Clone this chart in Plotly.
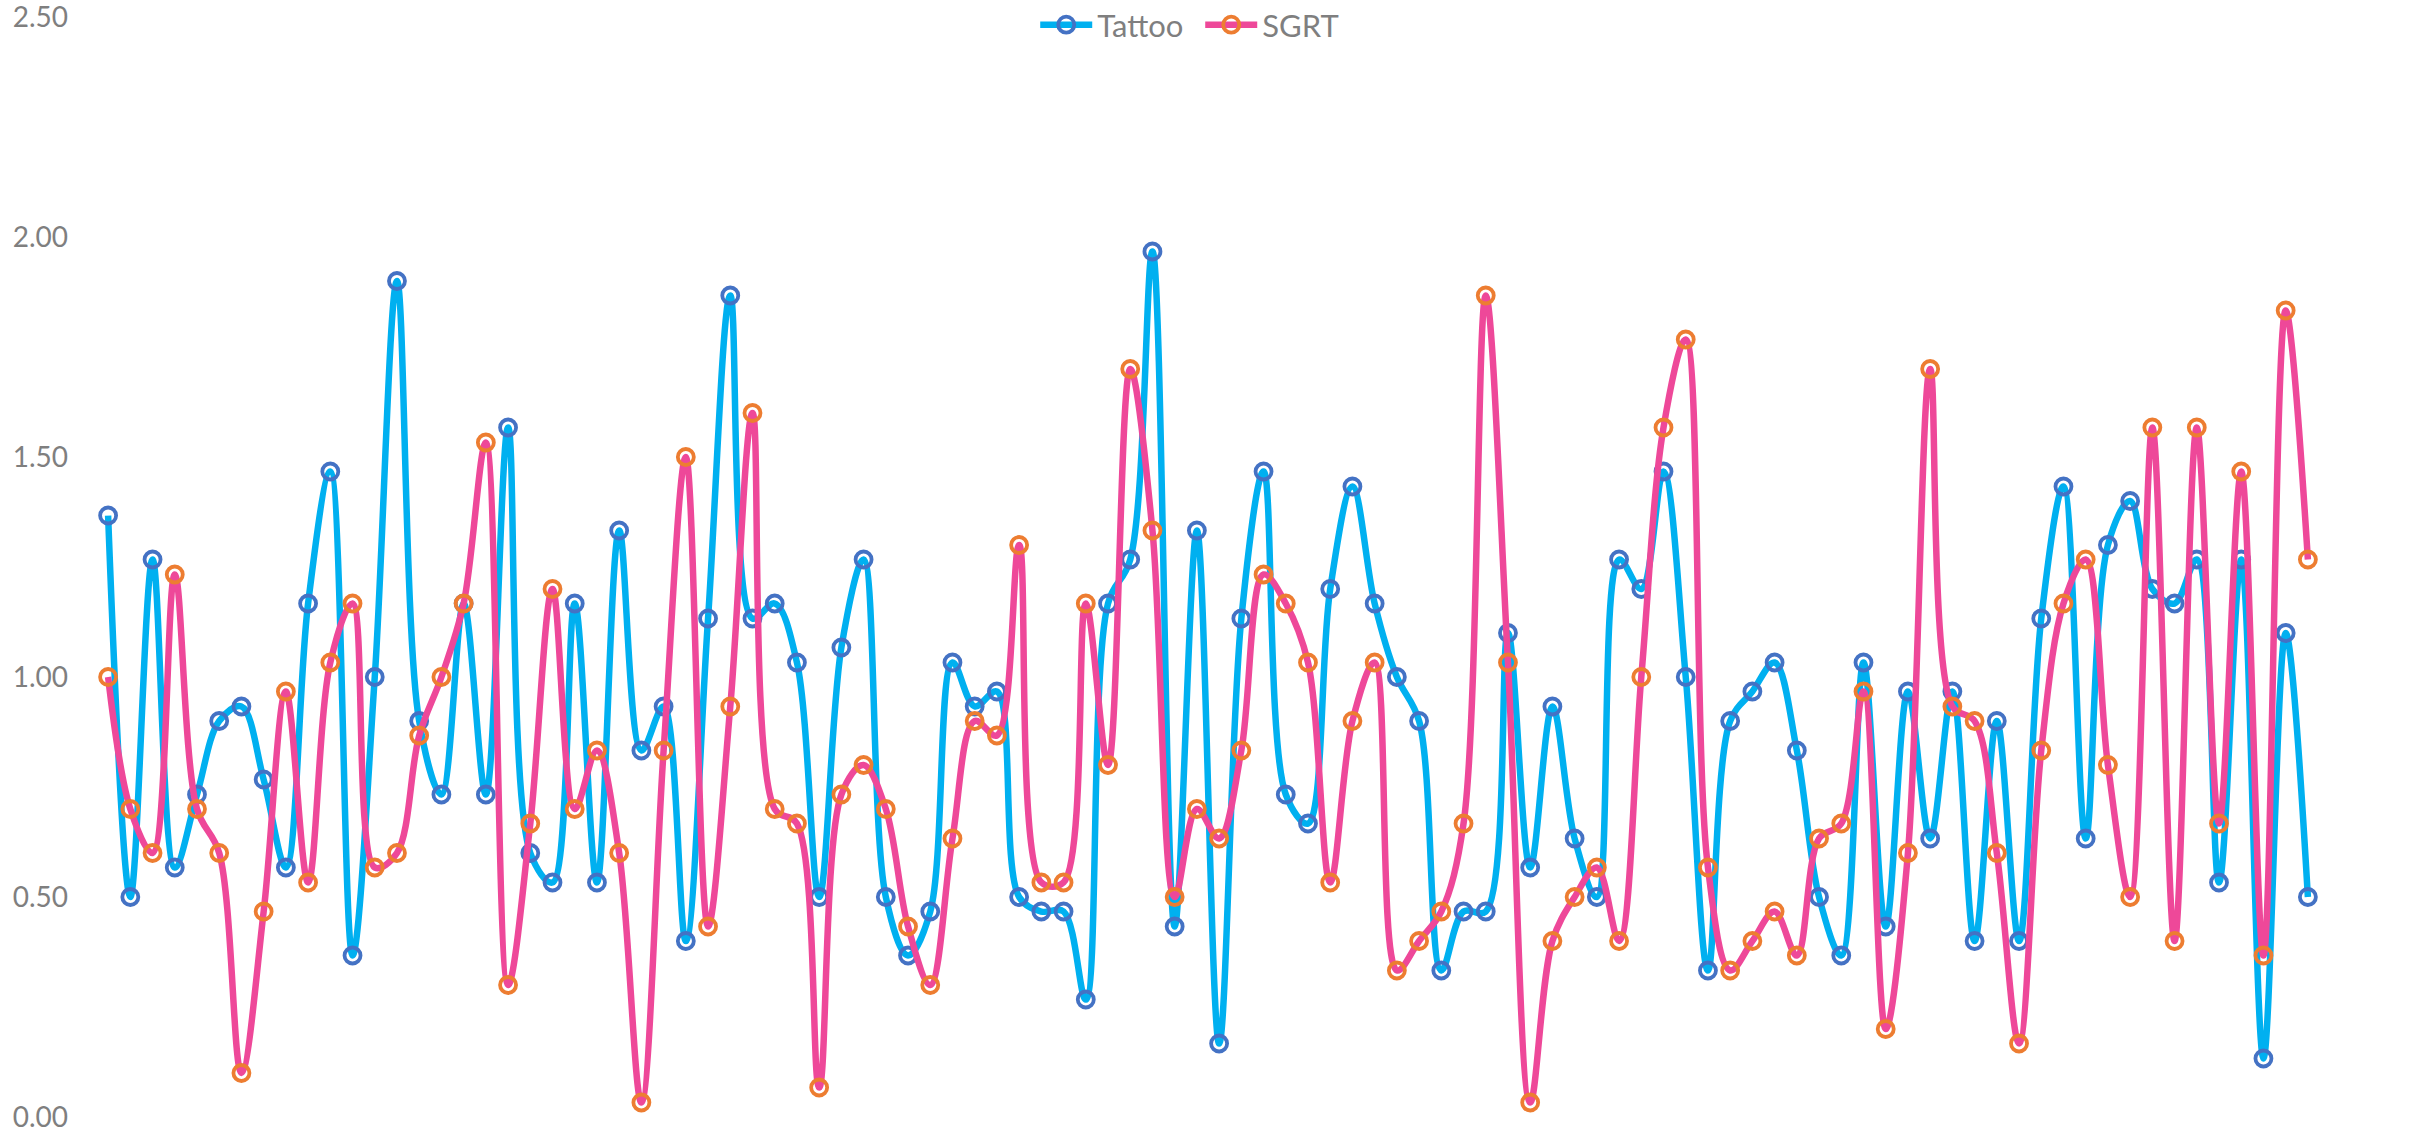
import plotly.graph_objects as go

points = list(range(1, 101))

tattoo = [
    1.367, 0.500, 1.267, 0.567, 0.733, 0.900, 0.933, 0.767, 0.567, 1.167,
    1.467, 0.367, 1.000, 1.900, 0.900, 0.733, 1.167, 0.733, 1.567, 0.600,
    0.533, 1.167, 0.533, 1.333, 0.833, 0.933, 0.400, 1.133, 1.867, 1.133,
    1.167, 1.033, 0.500, 1.067, 1.267, 0.500, 0.367, 0.467, 1.033, 0.933,
    0.967, 0.500, 0.467, 0.467, 0.267, 1.167, 1.267, 1.967, 0.433, 1.333,
    0.167, 1.133, 1.467, 0.733, 0.667, 1.200, 1.433, 1.167, 1.000, 0.900,
    0.333, 0.467, 0.467, 1.100, 0.567, 0.933, 0.633, 0.500, 1.267, 1.200,
    1.467, 1.000, 0.333, 0.900, 0.967, 1.033, 0.833, 0.500, 0.367, 1.033,
    0.433, 0.967, 0.633, 0.967, 0.400, 0.900, 0.400, 1.133, 1.433, 0.633,
    1.300, 1.400, 1.200, 1.167, 1.267, 0.533, 1.267, 0.133, 1.100, 0.500,
]

sgrt = [
    1.000, 0.700, 0.600, 1.233, 0.700, 0.600, 0.100, 0.467, 0.967, 0.533,
    1.033, 1.167, 0.567, 0.600, 0.867, 1.000, 1.167, 1.533, 0.300, 0.667,
    1.200, 0.700, 0.833, 0.600, 0.033, 0.833, 1.500, 0.433, 0.933, 1.600,
    0.700, 0.667, 0.067, 0.733, 0.800, 0.700, 0.433, 0.300, 0.633, 0.900,
    0.867, 1.300, 0.533, 0.533, 1.167, 0.800, 1.700, 1.333, 0.500, 0.700,
    0.633, 0.833, 1.233, 1.167, 1.033, 0.533, 0.900, 1.033, 0.333, 0.400,
    0.467, 0.667, 1.867, 1.033, 0.033, 0.400, 0.500, 0.567, 0.400, 1.000,
    1.567, 1.767, 0.567, 0.333, 0.400, 0.467, 0.367, 0.633, 0.667, 0.967,
    0.200, 0.600, 1.700, 0.933, 0.900, 0.600, 0.167, 0.833, 1.167, 1.267,
    0.800, 0.500, 1.567, 0.400, 1.567, 0.667, 1.467, 0.367, 1.833, 1.267,
]

y_ticks = [0.0, 0.5, 1.0, 1.5, 2.0, 2.5]

fig = go.Figure()
fig.add_trace(go.Scatter(
    x=points, y=tattoo, name="Tattoo", mode="lines+markers",
    line=dict(color="#00B0F0", width=6.5, shape="spline", smoothing=1.0),
    marker=dict(symbol="circle-open", size=16, color="#4472C4",
                line=dict(width=3.8, color="#4472C4")),
    cliponaxis=False,
))
fig.add_trace(go.Scatter(
    x=points, y=sgrt, name="SGRT", mode="lines+markers",
    line=dict(color="#EE4899", width=6.5, shape="spline", smoothing=1.0),
    marker=dict(symbol="circle-open", size=16, color="#ED7D31",
                line=dict(width=3.8, color="#ED7D31")),
    cliponaxis=False,
))

fig.update_layout(
    width=2430, height=1134,
    margin=dict(l=97, r=111, t=17, b=17, autoexpand=False),
    paper_bgcolor="white", plot_bgcolor="white",
    font=dict(family="Lato, 'Open Sans', sans-serif", size=28, color="#7F7F7F"),
    showlegend=True,
    legend=dict(orientation="h", x=0.4965, xanchor="center", y=0.9927, yanchor="middle",
                font=dict(size=31, color="#7F7F7F"), bgcolor="rgba(0,0,0,0)",
                itemwidth=52, entrywidth=98, entrywidthmode="pixels",
                tracegroupgap=0),
    xaxis=dict(range=[0.5, 100.5], showticklabels=False, showgrid=False,
               zeroline=False, showline=False, ticks="", automargin=False),
    yaxis=dict(range=[0, 2.5], tickvals=y_ticks, tickformat=".2f",
               showgrid=False, zeroline=False, showline=False, ticks="",
               automargin=False, ticklabeloverflow="allow",
               ticklabelstandoff=28, tickfont=dict(size=28, color="#7F7F7F")),
)

fig.write_html(
    "out.html",
    config={"displayModeBar": False},
    post_script="document.body.style.margin='0';document.body.style.overflow='hidden';",
)
